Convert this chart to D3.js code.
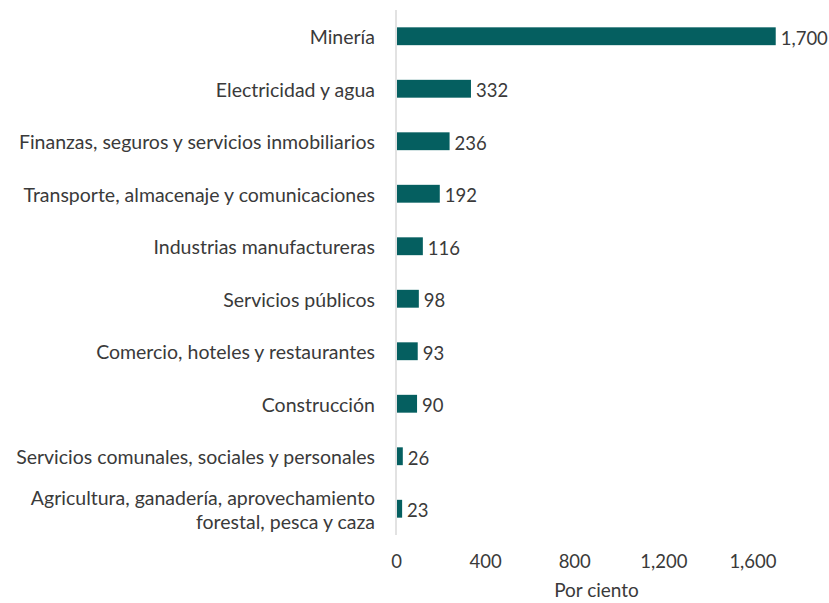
<!DOCTYPE html>
<html>
<head>
<meta charset="utf-8">
<script src="https://cdn.jsdelivr.net/npm/d3@7"></script>
<style>
  body { margin: 0; background: #fff; }
  svg text { font-family: Lato, "Open Sans", sans-serif; fill: #3a3a3a; }
</style>
</head>
<body>
<svg id="chart" width="829" height="603"></svg>
<script>
const sectors = [
  ['Minería'],
  ['Electricidad y agua'],
  ['Finanzas, seguros y servicios inmobiliarios'],
  ['Transporte, almacenaje y comunicaciones'],
  ['Industrias manufactureras'],
  ['Servicios públicos'],
  ['Comercio, hoteles y restaurantes'],
  ['Construcción'],
  ['Servicios comunales, sociales y personales'],
  ['Agricultura, ganadería, aprovechamiento', 'forestal, pesca y caza']
];
const values = [1700, 332, 236, 192, 116, 98, 93, 90, 26, 23];
const ticks = [0, 400, 800, 1200, 1600];
const axisTitle = 'Por ciento';

const width = 829, height = 603;
const margin = { top: 10, right: 32, bottom: 68, left: 396 };
const barColor = '#055f60';

const svg = d3.select('#chart');

const x = d3.scaleLinear()
    .domain([0, 1800])
    .range([margin.left, width - margin.right]);

const y = d3.scaleBand()
    .domain(d3.range(values.length))
    .range([margin.top, height - margin.bottom])
    .paddingInner(0.66)
    .paddingOuter(0.33);

// vertical axis line
svg.append('line')
    .attr('x1', x(0)).attr('x2', x(0))
    .attr('y1', margin.top).attr('y2', height - margin.bottom)
    .attr('stroke', '#d9d9d9')
    .attr('stroke-width', 1.5);

// bars
svg.selectAll('rect.bar')
    .data(values)
    .enter().append('rect')
    .attr('class', 'bar')
    .attr('x', x(0) + 1)
    .attr('y', (d, i) => y(i))
    .attr('width', d => x(d) - x(0))
    .attr('height', y.bandwidth())
    .attr('fill', barColor);

// value labels
svg.selectAll('text.val')
    .data(values)
    .enter().append('text')
    .attr('class', 'val')
    .attr('x', d => x(d) + 6)
    .attr('y', (d, i) => y(i) + y.bandwidth() / 2 + 2)
    .attr('dy', '0.35em')
    .style('font-size', '18.5px')
    .text(d => d3.format(',')(d));

// category labels
const cat = svg.selectAll('text.cat')
    .data(sectors)
    .enter().append('text')
    .attr('class', 'cat')
    .attr('text-anchor', 'end')
    .attr('x', 375)
    .attr('y', (d, i) => y(i) + y.bandwidth() / 2 + 1 - (d.length - 1) * 12)
    .style('font-size', '19.5px');

cat.selectAll('tspan')
    .data(d => d)
    .enter().append('tspan')
    .attr('x', 375)
    .attr('dy', (d, i) => i === 0 ? '0.35em' : '24')
    .text(d => d);

// x axis (labels only)
const xAxis = d3.axisBottom(x)
    .tickValues(ticks)
    .tickFormat(d3.format(','))
    .tickSize(0)
    .tickPadding(0);

const gx = svg.append('g')
    .attr('transform', `translate(0, 555)`)
    .call(xAxis);
gx.select('.domain').remove();
gx.selectAll('text')
    .style('font-family', 'Lato, "Open Sans", sans-serif')
    .style('font-size', '18.5px')
    .attr('fill', '#3a3a3a');

svg.append('text')
    .attr('x', x(900))
    .attr('y', 597)
    .attr('text-anchor', 'middle')
    .style('font-size', '19px')
    .text(axisTitle);
</script>
</body>
</html>
